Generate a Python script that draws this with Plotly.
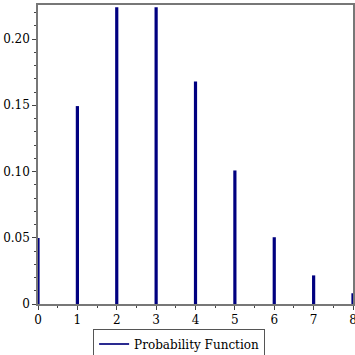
import plotly.graph_objects as go

k_values = [0, 1, 2, 3, 4, 5, 6, 7, 8]
probabilities = [0.0498, 0.1494, 0.2240, 0.2240, 0.1680, 0.1008, 0.0504, 0.0216, 0.0081]
y_tick_vals = [0, 0.05, 0.10, 0.15, 0.20]
y_tick_text = ["0", "0.05", "0.10", "0.15", "0.20"]
x_tick_vals = k_values
series_name = "Probability Function"

xs, ys = [], []
for k, p in zip(k_values, probabilities):
    xs += [k, k, None]
    ys += [0, p, None]

font = dict(family="DejaVu Serif, Liberation Serif, serif", size=12, color="#000000")

fig = go.Figure()
fig.add_trace(go.Scatter(
    x=xs, y=ys, mode="lines", name=series_name,
    line=dict(color="#000080", width=3.2),
    showlegend=False,
))
fig.add_trace(go.Scatter(
    x=[None], y=[None], mode="lines", name=series_name,
    line=dict(color="#2a2a90", width=2),
    showlegend=True,
))

fig.update_layout(
    width=355, height=355,
    margin=dict(l=38, r=2, t=5, b=51, autoexpand=False),
    paper_bgcolor="white", plot_bgcolor="white",
    font=font,
    showlegend=True,
    legend=dict(
        orientation="h", x=0.448, xanchor="center", y=-0.082, yanchor="top",
        bordercolor="#555555", borderwidth=1, font=font,
        itemwidth=30, tracegroupgap=0,
    ),
    xaxis=dict(
        range=[0, 8], tickvals=x_tick_vals, ticks="outside", ticklen=4,
        tickcolor="#444444", showgrid=False, zeroline=False,
        showline=True, linecolor="#777777", linewidth=1.5, mirror=True,
        minor=dict(dtick=0.5, ticks="outside", ticklen=2, tickcolor="#444444", showgrid=False),
        tickfont=font, ticklabeloverflow="allow",
    ),
    yaxis=dict(
        range=[0, 0.2257], tickvals=y_tick_vals, ticktext=y_tick_text,
        ticks="outside", ticklen=4, tickcolor="#444444",
        showgrid=False, zeroline=False,
        showline=True, linecolor="#777777", linewidth=1.5, mirror=True,
        minor=dict(tickvals=[i / 100 for i in range(0, 23)], ticks="outside", ticklen=2,
                   tickcolor="#444444", showgrid=False),
        tickfont=font, ticklabeloverflow="allow",
    ),
)

fig.write_html("out.html")
